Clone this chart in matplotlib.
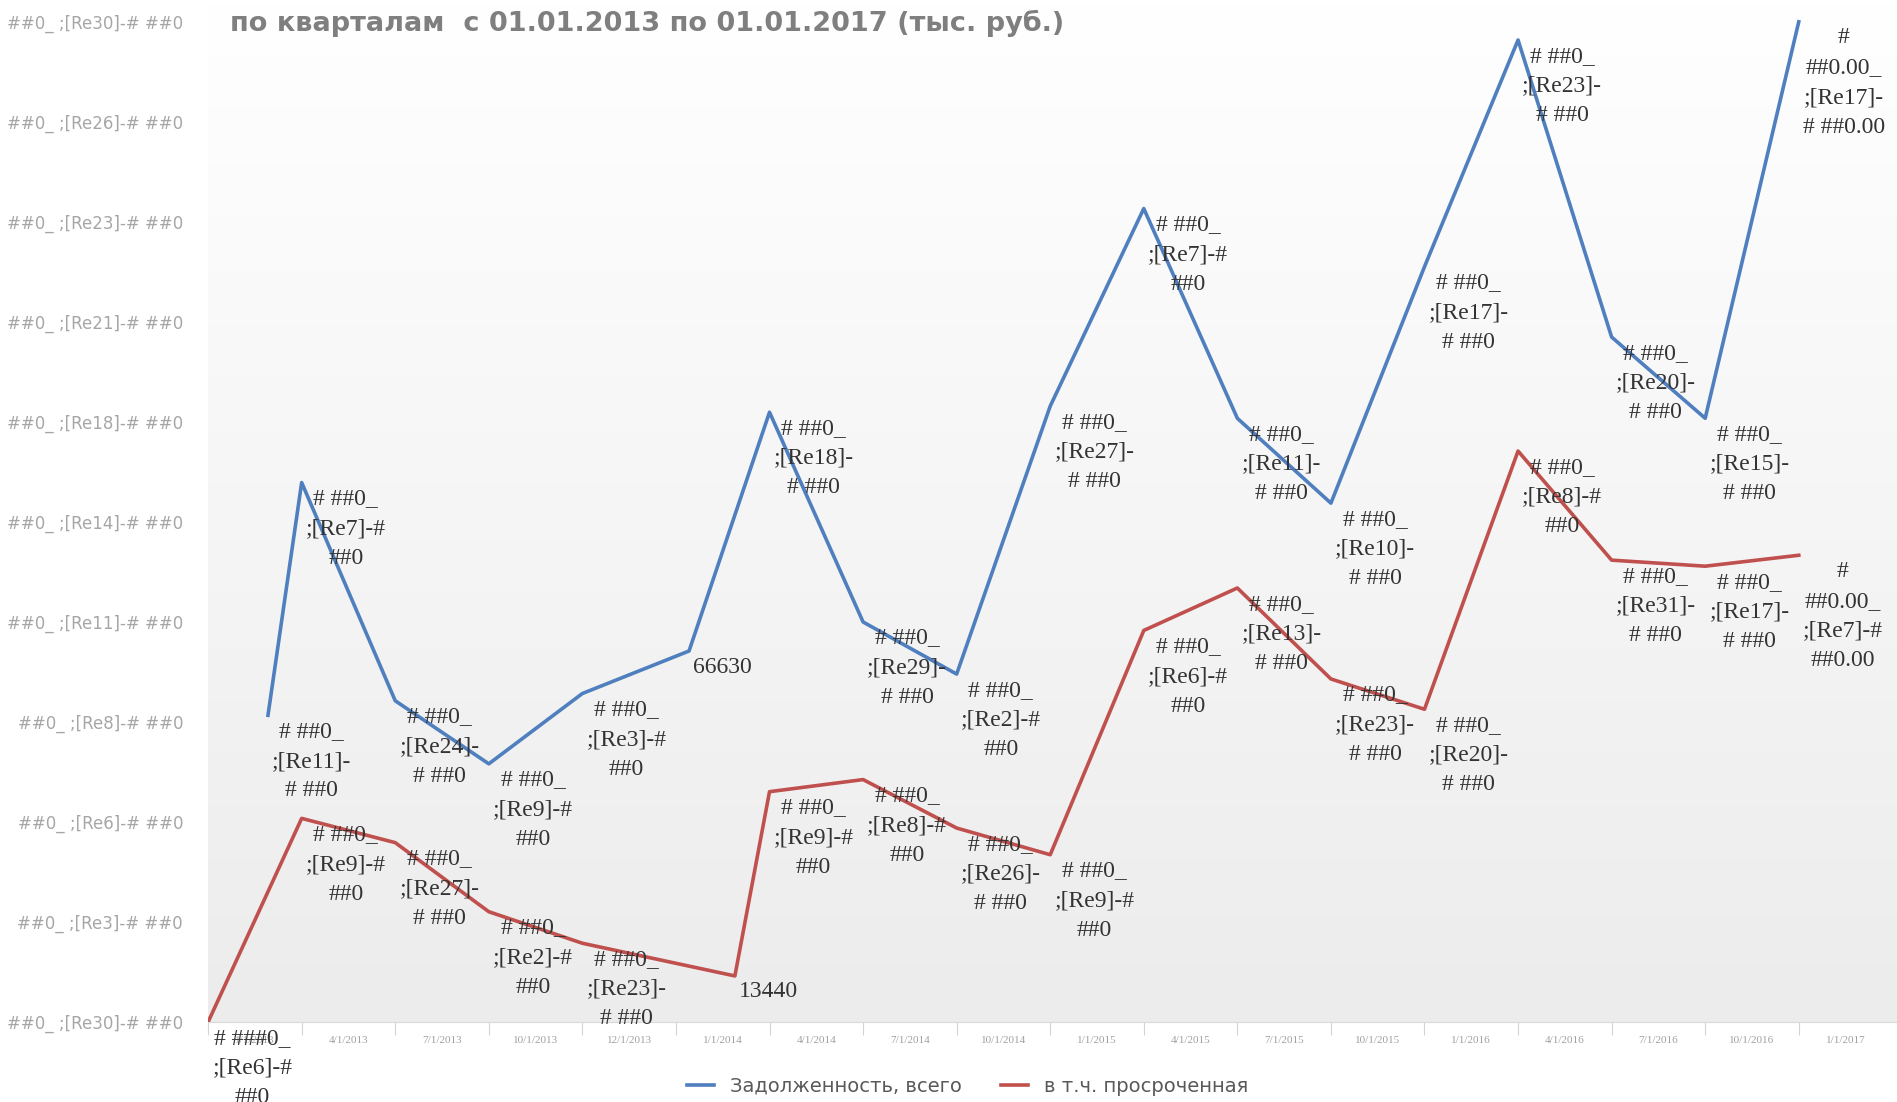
import matplotlib.pyplot as plt
import numpy as np
from matplotlib.colors import LinearSegmentedColormap
from matplotlib.lines import Line2D

# categories (as printed on the x axis)
quarters = ["1/1/2013", "4/1/2013", "7/1/2013", "10/1/2013", "12/1/2013",
            "1/1/2014", "4/1/2014", "7/1/2014", "10/1/2014", "1/1/2015",
            "4/1/2015", "7/1/2015", "10/1/2015", "1/1/2016", "4/1/2016",
            "7/1/2016", "10/1/2016", "1/1/2017"]

# series: Задолженность, всего
x_total = [0.64, 1, 2, 3, 4, 5.14, 6, 7, 8, 9, 10, 11, 12, 13, 14, 15, 16, 17]
total = [56100, 94200, 58480, 48160, 59670, 66630, 105710, 71380, 62850,
         106710, 139050, 104720, 90830, 129530, 166640, 118020, 104720, 169620]

# series: в т.ч. просроченная
x_overdue = [0, 1, 2, 3, 4, 5.63, 6, 7, 8, 9, 10, 11, 12, 13, 14, 15, 16, 17]
overdue = [5900, 39230, 35260, 23950, 18790, 13440, 43600, 45580, 37650,
           33280, 69990, 76940, 62050, 57090, 99360, 81500, 80510, 82300]

# the broken number-format strings shown as data labels
total_labels = [
    "# ##0_\n;[Re11]-\n# ##0", "# ##0_\n;[Re7]-#\n##0", "# ##0_\n;[Re24]-\n# ##0",
    "# ##0_\n;[Re9]-#\n##0", "# ##0_\n;[Re3]-#\n##0", "66630",
    "# ##0_\n;[Re18]-\n# ##0", "# ##0_\n;[Re29]-\n# ##0", "# ##0_\n;[Re2]-#\n##0",
    "# ##0_\n;[Re27]-\n# ##0", "# ##0_\n;[Re7]-#\n##0", "# ##0_\n;[Re11]-\n# ##0",
    "# ##0_\n;[Re10]-\n# ##0", "# ##0_\n;[Re17]-\n# ##0", "# ##0_\n;[Re23]-\n# ##0",
    "# ##0_\n;[Re20]-\n# ##0", "# ##0_\n;[Re15]-\n# ##0",
    "#\n##0.00_\n;[Re17]-\n# ##0.00"]
overdue_labels = [
    "# ###0_\n;[Re6]-#\n##0", "# ##0_\n;[Re9]-#\n##0", "# ##0_\n;[Re27]-\n# ##0",
    "# ##0_\n;[Re2]-#\n##0", "# ##0_\n;[Re23]-\n# ##0", "13440",
    "# ##0_\n;[Re9]-#\n##0", "# ##0_\n;[Re8]-#\n##0", "# ##0_\n;[Re26]-\n# ##0",
    "# ##0_\n;[Re9]-#\n##0", "# ##0_\n;[Re6]-#\n##0", "# ##0_\n;[Re13]-\n# ##0",
    "# ##0_\n;[Re23]-\n# ##0", "# ##0_\n;[Re20]-\n# ##0", "# ##0_\n;[Re8]-#\n##0",
    "# ##0_\n;[Re31]-\n# ##0", "# ##0_\n;[Re17]-\n# ##0",
    "#\n##0.00_\n;[Re7]-#\n##0.00"]

y_tick_labels = ["##0_ ;[Re30]-# ##0", "##0_ ;[Re3]-# ##0", "##0_ ;[Re6]-# ##0",
                 "##0_ ;[Re8]-# ##0", "##0_ ;[Re11]-# ##0", "##0_ ;[Re14]-# ##0",
                 "##0_ ;[Re18]-# ##0", "##0_ ;[Re21]-# ##0", "##0_ ;[Re23]-# ##0",
                 "##0_ ;[Re26]-# ##0", "##0_ ;[Re30]-# ##0"]

title = "по кварталам  с 01.01.2013 по 01.01.2017 (тыс. руб.)"

blue = "#4f7fbe"
red = "#c0504d"

fig = plt.figure(figsize=(18.97, 11.02), dpi=100)
ax = fig.add_axes([0.1097, 0.0726, 0.8903, 0.9274])

ylo, yhi = 5900, 173190
xlo, xhi = 0, 18.05

# plot area gradient fill
grad = LinearSegmentedColormap.from_list("g", ["#ffffff", "#ececec"])
ax.imshow(np.linspace(0, 1, 256).reshape(-1, 1), extent=[xlo, xhi, ylo, yhi],
          aspect="auto", cmap=grad, origin="upper", zorder=0)

ax.plot(x_total, total, color=blue, lw=2.6, zorder=3)
ax.plot(x_overdue, overdue, color=red, lw=2.6, zorder=3)

for xs, ys, labs in [(x_total, total, total_labels), (x_overdue, overdue, overdue_labels)]:
    for x, y, s in zip(xs, ys, labs):
        ax.annotate(s, (x, y), xytext=(3, -4), textcoords="offset points",
                    ha="left", va="top", multialignment="center",
                    fontsize=17, family="Liberation Serif", color="#333333",
                    linespacing=1.55, zorder=4, annotation_clip=False)

ax.set_xlim(xlo, xhi)
ax.set_ylim(ylo, yhi)

ax.set_xticks(np.arange(len(quarters)))
ax.set_xticklabels([])
ax.set_xticks(np.arange(len(quarters)) + 0.5, minor=True)
ax.set_xticklabels(quarters, minor=True, fontsize=8, family="Liberation Serif",
                   color="#a0a0a0")
ax.tick_params(axis="x", which="major", length=9, color="#d4d4d4")
ax.tick_params(axis="x", which="minor", length=0, pad=10)

ax.set_yticks(np.linspace(5900, 169620, len(y_tick_labels)))
ax.set_yticklabels(y_tick_labels, fontsize=12, color="#a6a6a6")
ax.tick_params(axis="y", length=0, pad=18)

for side in ["top", "right", "left"]:
    ax.spines[side].set_visible(False)
ax.spines["bottom"].set_color("#d9d9d9")

fig.text(0.121, 0.979, title, fontsize=19.5, fontweight="bold", color="#7f7f7f",
         va="center", ha="left")

handles = [Line2D([], [], color=blue, lw=2.6), Line2D([], [], color=red, lw=2.6)]
fig.legend(handles, ["Задолженность, всего", "в т.ч. просроченная"],
           loc="lower center", bbox_to_anchor=(0.51, -0.01), ncol=2,
           frameon=False, handlelength=1.4, fontsize=14, labelcolor="#595959",
           columnspacing=2.0)

fig.savefig("out.png", dpi=100)
